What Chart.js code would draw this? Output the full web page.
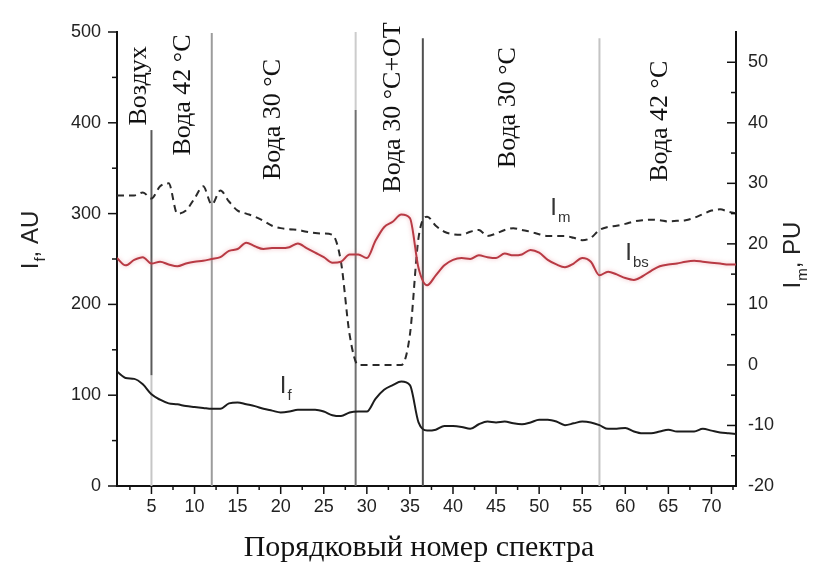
<!DOCTYPE html>
<html>
<head>
<meta charset="utf-8">
<script src="https://cdn.jsdelivr.net/npm/chart.js@4.4.1/dist/chart.umd.min.js"></script>
<style>
  html, body { margin: 0; padding: 0; background: #fff; }
  #wrap { width: 813px; height: 562px; }
</style>
</head>
<body>
<div id="wrap"><canvas id="chart" width="813" height="562"></canvas></div>
<script>
// spectrum number (x axis)
const spectrumNo = [1, 2, 3, 4, 5, 6, 7, 8, 9, 10, 11, 12, 13, 14, 15, 16, 17, 18, 19, 20,
  21, 22, 23, 24, 25, 26, 27, 28, 29, 30, 31, 32, 33, 34, 35, 36, 37, 38, 39, 40,
  41, 42, 43, 44, 45, 46, 47, 48, 49, 50, 51, 52, 53, 54, 55, 56, 57, 58, 59, 60,
  61, 62, 63, 64, 65, 66, 67, 68, 69, 70, 71, 72, 73];

// I_f, AU (left axis)
const intensityF = [126, 119, 118, 112, 101, 95, 91, 90, 88, 87, 86, 85, 85, 91, 92, 90, 88, 85, 83, 81,
  82, 84, 84, 84, 82, 78, 77, 81, 82, 82, 96, 106, 111, 115, 111, 70, 61, 62, 66, 66,
  65, 63, 68, 71, 70, 71, 69, 68, 70, 73, 73, 71, 67, 69, 71, 70, 67, 63, 63, 64,
  60, 58, 58, 60, 62, 60, 60, 60, 63, 61, 59, 58, 57];

// I_bs, AU (left axis)
const intensityBs = [251, 243, 249, 252, 245, 247, 244, 242, 245, 247, 248, 250, 252, 259, 261, 268, 264, 261, 262, 262,
  263, 267, 262, 257, 252, 246, 247, 255, 255, 251, 270, 285, 291, 299, 295, 240, 221, 232, 243, 249,
  251, 250, 254, 252, 251, 256, 254, 255, 260, 257, 249, 244, 241, 245, 251, 247, 232, 236, 233, 229,
  227, 231, 237, 242, 244, 245, 247, 248, 247, 246, 245, 244, 244];

// I_m, PU (right axis)
const intensityM = [28, 28, 28, 28.5, 27.5, 29.5, 30, 25, 25.5, 27.5, 29.5, 26.5, 28.8, 27, 25.5, 25, 24.5, 23.8, 23, 22.6,
  22.4, 22.3, 22, 21.8, 21.7, 21.5, 17, 5, 0, 0, 0, 0, 0, 0, 5, 21, 24.5, 23, 22, 21.6,
  21.5, 22, 22.3, 21.3, 21.7, 22.3, 22.6, 22.3, 22, 21.6, 21.3, 21.3, 21.3, 21, 20.6, 21, 22.3, 22.8, 23, 23.3,
  23.7, 23.9, 24, 23.9, 23.7, 23.8, 23.9, 24.3, 24.9, 25.5, 25.7, 25.3, 25];

// ticks
const xTicks = [5, 10, 15, 20, 25, 30, 35, 40, 45, 50, 55, 60, 65, 70];
const xMinorTicks = [2.5, 7.5, 12.5, 17.5, 22.5, 27.5, 32.5, 37.5, 42.5, 47.5, 52.5, 57.5, 62.5, 67.5, 72.5];
const leftTicks = [0, 100, 200, 300, 400, 500];
const leftMinorTicks = [50, 150, 250, 350, 450];
const rightTicks = [-20, -10, 0, 10, 20, 30, 40, 50];
const rightMinorTicks = [-15, -5, 5, 15, 25, 35, 45];

// stage boundaries (spectrum no.) and their vertical extent in AU
const stageX    = [5, 5, 12, 28.7, 28.7, 36.5, 57];
const stageLow  = [122, 0, 0, 0, 414, 0, 0];
const stageHigh = [392, 122, 499, 414, 500, 493, 493];
const stageColors = ['#5a5a5a', '#c6c6c6', '#9c9c9c', '#707070', '#cccccc', '#505050', '#c4c4c4'];

// stage names
const stageNames = ['Воздух', 'Вода 42 °С', 'Вода 30 °С', 'Вода 30 °С+ОТ', 'Вода 30 °С', 'Вода 42 °С'];
const stageNameX = [3.55, 8.7, 19.1, 33.1, 46.4, 64.1];
const stageNameBottom = [397, 364, 337, 323, 350, 335];

const textColor = '#222';

const datasets = [
  {
    label: 'If', yAxisID: 'y',
    data: spectrumNo.map((x, i) => ({ x: x, y: intensityF[i] })),
    borderColor: '#1c1c1c', borderWidth: 2, pointRadius: 0,
    cubicInterpolationMode: 'monotone'
  },
  {
    label: 'Ibs', yAxisID: 'y',
    data: spectrumNo.map((x, i) => ({ x: x, y: intensityBs[i] })),
    borderColor: '#b83a44', borderWidth: 2, pointRadius: 0,
    cubicInterpolationMode: 'monotone'
  },
  {
    label: 'Im', yAxisID: 'y1',
    data: spectrumNo.map((x, i) => ({ x: x, y: intensityM[i] })),
    borderColor: '#2a2a2a', borderWidth: 2, borderDash: [7, 5], pointRadius: 0,
    cubicInterpolationMode: 'monotone'
  }
];

stageX.forEach((x, i) => {
  datasets.push({
    label: 'stage' + i, yAxisID: 'y',
    data: [{ x: x, y: stageLow[i] }, { x: x, y: stageHigh[i] }],
    borderColor: stageColors[i], borderWidth: 2, pointRadius: 0
  });
});

// draws a label with a subscript, e.g. I + f
function drawSub(ctx, x, y, main, sub, rest, size) {
  ctx.font = size + 'px "Liberation Sans"';
  ctx.fillText(main, x, y);
  let w = ctx.measureText(main).width;
  ctx.font = Math.round(size * 0.62) + 'px "Liberation Sans"';
  ctx.fillText(sub, x + w + 1, y + size * 0.28);
  w += ctx.measureText(sub).width + 1;
  if (rest) {
    ctx.font = size + 'px "Liberation Sans"';
    ctx.fillText(rest, x + w, y);
  }
}

function subWidth(ctx, main, sub, rest, size) {
  ctx.font = size + 'px "Liberation Sans"';
  let w = ctx.measureText(main).width + (rest ? ctx.measureText(rest).width : 0);
  ctx.font = Math.round(size * 0.62) + 'px "Liberation Sans"';
  return w + ctx.measureText(sub).width + 1;
}

// soft pink halo under the red curve
const haloPlugin = {
  id: 'halo',
  beforeDatasetDraw(chart, args) {
    if (args.index !== 1) return;
    chart.ctx.save();
    chart.ctx.shadowColor = 'rgba(230, 130, 140, 0.6)';
    chart.ctx.shadowBlur = 4;
  },
  afterDatasetDraw(chart, args) {
    if (args.index !== 1) return;
    chart.ctx.restore();
  }
};

const decorPlugin = {
  id: 'decor',
  afterDraw(chart) {
    const ctx = chart.ctx;
    const xs = chart.scales.x, ys = chart.scales.y, ys1 = chart.scales.y1;
    const area = chart.chartArea;
    ctx.save();
    ctx.strokeStyle = '#111';
    ctx.lineWidth = 1.5;
    // tick marks
    const mark = (x1, y1, x2, y2) => { ctx.beginPath(); ctx.moveTo(x1, y1); ctx.lineTo(x2, y2); ctx.stroke(); };
    xTicks.forEach(v => { const p = xs.getPixelForValue(v); mark(p, area.bottom, p, area.bottom + 8); });
    xMinorTicks.forEach(v => { const p = xs.getPixelForValue(v); mark(p, area.bottom, p, area.bottom + 4); });
    leftTicks.forEach(v => { const p = ys.getPixelForValue(v); mark(area.left, p, area.left - 9, p); });
    leftMinorTicks.forEach(v => { const p = ys.getPixelForValue(v); mark(area.left, p, area.left - 5, p); });
    rightTicks.forEach(v => { const p = ys1.getPixelForValue(v); mark(area.right, p, area.right - 9, p); });
    rightMinorTicks.forEach(v => { const p = ys1.getPixelForValue(v); mark(area.right, p, area.right - 5, p); });

    // stage names, rotated
    ctx.fillStyle = '#111';
    ctx.font = '26px "Liberation Serif"';
    ctx.textAlign = 'left';
    ctx.textBaseline = 'middle';
    stageNames.forEach((name, i) => {
      ctx.save();
      ctx.translate(xs.getPixelForValue(stageNameX[i]), ys.getPixelForValue(stageNameBottom[i]));
      ctx.rotate(-Math.PI / 2);
      ctx.fillText(name, 0, 0);
      ctx.restore();
    });

    // curve labels
    ctx.fillStyle = '#333';
    ctx.textBaseline = 'alphabetic';
    drawSub(ctx, xs.getPixelForValue(19.9), ys.getPixelForValue(102), 'I', 'f', '', 24);
    drawSub(ctx, xs.getPixelForValue(51.3), ys.getPixelForValue(298), 'I', 'm', '', 24);
    drawSub(ctx, xs.getPixelForValue(60.0), ys.getPixelForValue(249), 'I', 'bs', '', 24);

    // axis titles
    ctx.fillStyle = textColor;
    let w = subWidth(ctx, 'I', 'f', ', AU', 24);
    ctx.save();
    ctx.translate(38, 240 + w / 2);
    ctx.rotate(-Math.PI / 2);
    drawSub(ctx, 0, 0, 'I', 'f', ', AU', 24);
    ctx.restore();

    w = subWidth(ctx, 'I', 'm', ', PU', 24);
    ctx.save();
    ctx.translate(800, 255 + w / 2);
    ctx.rotate(-Math.PI / 2);
    drawSub(ctx, 0, 0, 'I', 'm', ', PU', 24);
    ctx.restore();

    ctx.font = '30px "Liberation Serif"';
    ctx.textAlign = 'center';
    ctx.fillStyle = '#111';
    ctx.fillText('Порядковый номер спектра', 419, 556);
    ctx.restore();
  }
};

const tickFont = { family: '"Liberation Sans"', size: 18 };

new Chart(document.getElementById('chart'), {
  type: 'line',
  data: { datasets: datasets },
  plugins: [haloPlugin, decorPlugin],
  options: {
    responsive: false,
    devicePixelRatio: 1,
    animation: false,
    layout: { padding: { top: 32, left: 0, right: 0, bottom: 0 } },
    plugins: { legend: { display: false }, tooltip: { enabled: false } },
    scales: {
      x: {
        type: 'linear', position: 'bottom', min: 1, max: 72.85,
        afterBuildTicks: s => { s.ticks = xTicks.map(v => ({ value: v })); },
        afterFit: s => { s.height = 76; },
        ticks: { font: tickFont, color: textColor, padding: 10, maxRotation: 0, autoSkip: false },
        grid: { display: false, drawTicks: false },
        border: { display: true, color: '#111', width: 2 }
      },
      y: {
        type: 'linear', position: 'left', min: 0, max: 500,
        afterBuildTicks: s => { s.ticks = leftTicks.map(v => ({ value: v })); },
        afterFit: s => { s.width = 117; },
        ticks: { font: tickFont, color: textColor, padding: 16 },
        grid: { display: false, drawTicks: false },
        border: { display: true, color: '#111', width: 2 }
      },
      y1: {
        type: 'linear', position: 'right', min: -20, max: 55,
        afterBuildTicks: s => { s.ticks = rightTicks.map(v => ({ value: v })); },
        afterFit: s => { s.width = 77; },
        ticks: { font: tickFont, color: textColor, padding: 12 },
        grid: { display: false, drawTicks: false },
        border: { display: true, color: '#111', width: 2 }
      }
    }
  }
});
</script>
</body>
</html>
